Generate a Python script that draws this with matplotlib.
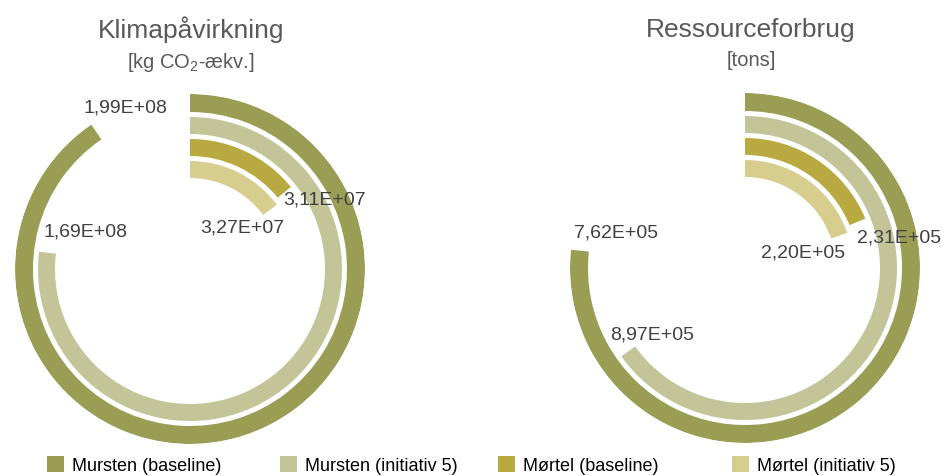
import matplotlib
matplotlib.use("Agg")
import matplotlib.pyplot as plt
import numpy as np
from matplotlib.patches import Patch

# ---------------- data ----------------
series = ["Mursten (baseline)", "Mursten (initiativ 5)", "Mørtel (baseline)", "Mørtel (initiativ 5)"]
colors = ["#9A9E54", "#C3C599", "#B8AA40", "#D6CD8E"]

klima_title = "Klimapåvirkning"
klima_unit = r"[kg CO$_{\mathrm{2}}$-ækv.]"
klima_values = [1.99e8, 1.69e8, 3.11e7, 3.27e7]
klima_labels = ["1,99E+08", "1,69E+08", "3,11E+07", "3,27E+07"]
klima_max = 2.2e8

ressource_title = "Ressourceforbrug"
ressource_unit = "[tons]"
ressource_values = [8.97e5, 7.62e5, 2.20e5, 2.31e5]
ressource_labels = ["7,62E+05", "8,97E+05", "2,31E+05", "2,20E+05"]
ressource_max = 1.17e6

# ---------------- style ----------------
FONT = ["Liberation Sans", "DejaVu Sans"]
plt.rcParams["font.family"] = FONT
plt.rcParams["mathtext.fontset"] = "custom"
plt.rcParams["mathtext.rm"] = "Liberation Sans"
plt.rcParams["mathtext.it"] = "Liberation Sans"

W, H = 943, 477
fig = plt.figure(figsize=(W / 100, H / 100), dpi=100)
fig.patch.set_facecolor("white")

R = 175.0
ring_outer = [175, 152, 130, 108]
ring_thick = [18, 17, 17, 17]


def px(x, y):
    return x / W, 1 - y / H


def radial(cx, cy, values, vmax, labels, offsets, title, unit, tx, ty, uy):
    ax = fig.add_axes([(cx - R) / W, (H - cy - R) / H, 2 * R / W, 2 * R / H], projection="polar")
    ax.set_theta_zero_location("N")
    ax.set_theta_direction(-1)
    ax.set_ylim(0, R)
    ax.set_axis_off()
    for i, v in enumerate(values):
        theta = v / vmax * 2 * np.pi
        r_in = ring_outer[i] - ring_thick[i]
        ax.bar(0, ring_thick[i], width=theta, bottom=r_in, align="edge",
               color=colors[i], linewidth=0)
        r_mid = r_in + ring_thick[i] / 2
        ax.annotate(labels[i], xy=(theta, r_mid), xytext=offsets[i],
                    textcoords="offset pixels", ha="center", va="center",
                    fontsize=14, color="#404040", annotation_clip=False)
    fig.text(*px(tx, ty), title, ha="center", va="center", fontsize=19, color="#595959")
    fig.text(*px(tx, uy), unit, ha="center", va="center", fontsize=14.5, color="#595959")
    return ax


radial(190, 270, klima_values, klima_max, klima_labels,
       [(29, 25), (38, 22), (40, -7), (-28, -17)],
       klima_title, klima_unit, 191, 30, 63)
radial(745, 269, ressource_values, ressource_max, ressource_labels,
       [(36, 19), (24, 17), (42, -15), (-36, -16)],
       ressource_title, ressource_unit, 751, 30, 61)

# legend
leg_x = [47, 280, 498, 732]
for name, c, x in zip(series, colors, leg_x):
    lg = fig.legend(handles=[Patch(facecolor=c, edgecolor="none")], labels=[name],
                    loc="center left", bbox_to_anchor=px(x, 466), frameon=False,
                    fontsize=13, handlelength=0.95, handleheight=0.95,
                    handletextpad=0.45, borderpad=0, borderaxespad=0,
                    labelcolor="#000000")

fig.savefig("out.png", dpi=100, facecolor="white")
